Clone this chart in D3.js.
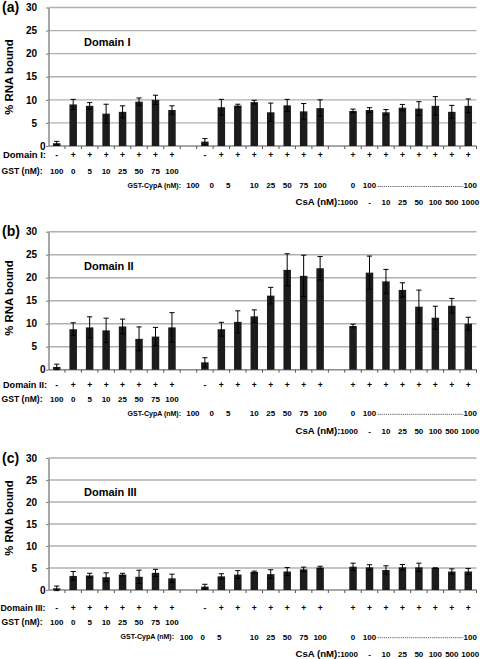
<!DOCTYPE html>
<html><head><meta charset="utf-8">
<script src="https://cdn.jsdelivr.net/npm/d3@7"></script>
<style>
body{margin:0;background:#fff}
text{font-family:"Liberation Sans",Arial,sans-serif;font-weight:bold;fill:#000}
</style>
</head><body>
<svg id="chart" width="480" height="659"></svg>
<script>
// ---------- data ----------
const categories = ["a1","a2","a3","a4","a5","a6","a7","a8","gap1",
                    "b1","b2","b3","b4","b5","b6","b7","b8","gap2",
                    "c1","c2","c3","c4","c5","c6","c7","c8"];
const barCategories = categories.filter(c => !c.startsWith("gap"));
const yTicks = [0,5,10,15,20,25,30];
const panelLetters = ["(a)","(b)","(c)"];
const domainNames = ["Domain I","Domain II","Domain III"];
const domainSigns = ["-","+","+","+","+","+","+","+",
                     "-","+","+","+","+","+","+","+",
                     "+","+","+","+","+","+","+","+"];
const gstLabels  = ["100","0","5","10","25","50","75","100"];
const cypaLabels = ["100","0","5","10","25","50","75","100"];
const cypaCsaLabels = ["0","100","","","","","","100"];
const csaLabels  = ["1000","-","10","25","50","100","500","1000"];

const domainIMeans  = [0.6,9.0,8.7,7.0,7.4,9.6,10.0,7.8,  0.95,8.4,8.75,9.5,7.3,8.8,7.5,8.2,  7.6,7.8,7.3,8.3,8.1,8.7,7.4,8.7];
const domainIErrors = [0.4,1.1,0.7,2.05,1.3,0.8,1.0,0.9,  0.65,1.7,0.3,0.4,2.0,1.3,1.7,1.8,  0.4,0.5,0.6,0.7,1.5,2.0,1.4,1.5];
const domainIIMeans  = [0.6,8.8,9.2,8.55,9.4,6.7,7.2,9.2,  1.6,8.8,10.4,11.6,16.1,21.7,20.4,22.05,  9.5,21.1,19.2,17.35,13.7,11.3,13.9,10.0];
const domainIIErrors = [0.6,1.4,2.3,2.65,1.6,2.6,2.0,3.2,  1.0,1.5,2.4,1.4,1.8,3.5,4.5,2.55,  0.4,3.6,2.6,1.55,3.6,2.5,1.6,1.4];
const domainIIIMeans  = [0.38,3.2,3.3,2.9,3.5,3.0,3.9,2.65,  0.76,3.1,3.5,4.1,3.6,4.2,4.7,5.1,  5.3,5.15,4.55,5.15,5.15,5.0,4.2,4.2];
const domainIIIErrors = [0.52,1.0,0.5,1.0,0.3,1.5,0.8,0.95,  0.54,0.6,0.9,0.2,1.0,0.9,0.5,0.3,  0.8,0.6,0.95,0.65,0.95,0.0,0.6,0.7];
const allMeans = [domainIMeans, domainIIMeans, domainIIIMeans];
const allErrors = [domainIErrors, domainIIErrors, domainIIIErrors];

// ---------- layout ----------
const layouts = [
  {top:7.5,  bottom:146,  rows:[155,171,185.5,202], titleY:77,  domLabelEnd:46, cypaEnd:181, cypaShift:[-12,-9.5,-9.5], domW:43},
  {top:231.7,bottom:369.7,rows:[385,399.3,413.3,431], titleY:298, domLabelEnd:47, cypaEnd:181, cypaShift:[-12,-9.5,-9.5], domW:44},
  {top:458,  bottom:590,  rows:[608.3,622.3,636.7,654], titleY:518, domLabelEnd:45.5, cypaEnd:174, cypaShift:[-18.5,-18.5,-18.5], domW:45}
];
const left = 48.5, right = 476.5;

const svg = d3.select("#chart");
const x = d3.scaleBand().domain(categories).range([left, right]).paddingInner(0.545).paddingOuter(0.2725);
const cx = c => x(c) + x.bandwidth()/2;
const step = x.step();

layouts.forEach((L, p) => {
  const g = svg.append("g");
  const y = d3.scaleLinear().domain([0,30]).range([L.bottom, L.top]);
  const means = allMeans[p], errs = allErrors[p];

  // gridlines
  g.selectAll(".grid").data(yTicks.filter(t => t > 0)).join("line")
    .attr("x1", left).attr("x2", right)
    .attr("y1", d => y(d)).attr("y2", d => y(d))
    .attr("stroke", "#b0b0b0").attr("stroke-width", 1.4);

  // y axis
  const ya = g.append("g").attr("transform", `translate(${left},0)`)
    .call(d3.axisLeft(y).tickValues(yTicks).tickSize(2.5).tickSizeOuter(0).tickPadding(9));
  ya.select(".domain").attr("stroke", "#8a8a8a").attr("stroke-width", 1.5);
  ya.selectAll(".tick line").attr("stroke", "#8a8a8a").attr("stroke-width", 1.2);
  ya.selectAll(".tick text").attr("font-size", 10).attr("font-family", "Liberation Sans, Arial, sans-serif")
    .attr("font-weight", "bold").attr("fill", "#000")
    .attr("dx", d => d === 0 ? 8.5 : 0);

  // x axis line and boundary ticks
  g.append("line").attr("x1", left).attr("x2", right).attr("y1", y(0)).attr("y2", y(0))
    .attr("stroke", "#8a8a8a").attr("stroke-width", 1.5);
  g.selectAll(".xt").data(categories).join("line")
    .attr("x1", d => x(d) + x.bandwidth()/2 + step/2).attr("x2", d => x(d) + x.bandwidth()/2 + step/2)
    .attr("y1", y(0)).attr("y2", y(0) + 3)
    .attr("stroke", "#555").attr("stroke-width", 1);

  // bars
  g.selectAll(".bar").data(barCategories).join("rect")
    .attr("x", d => x(d)).attr("width", x.bandwidth())
    .attr("y", (d,i) => y(means[i])).attr("height", (d,i) => y(0) - y(means[i]))
    .attr("fill", "#1c1c1c");

  // error bars
  const eb = g.selectAll(".eb").data(barCategories).join("g");
  eb.append("line").attr("x1", d => cx(d)).attr("x2", d => cx(d))
    .attr("y1", (d,i) => y(means[i] - errs[i])).attr("y2", (d,i) => y(means[i] + errs[i]))
    .attr("stroke", "#000").attr("stroke-width", 1);
  [1,-1].forEach(s => {
    eb.append("line").attr("x1", d => cx(d) - 2.6).attr("x2", d => cx(d) + 2.6)
      .attr("y1", (d,i) => y(means[i] + s*errs[i])).attr("y2", (d,i) => y(means[i] + s*errs[i]))
      .attr("stroke", "#000").attr("stroke-width", 1);
  });

  // panel letter, domain name, y title
  g.append("text").attr("x", 2).attr("y", L.top + 4.5).attr("font-size", 14).text(panelLetters[p]);
  g.append("text").attr("x", 84).attr("y", L.top + 34.3).attr("dy", "0.35em").attr("font-size", 11).text(domainNames[p]);
  g.append("text").attr("transform", `translate(9,${L.titleY}) rotate(-90)`)
    .attr("text-anchor", "middle").attr("dy", "0.35em").attr("font-size", 11.4).text("% RNA bound");

  // label rows
  const rowText = (xx, yy, t, anchor, size) => g.append("text").attr("x", xx).attr("y", yy)
    .attr("dy", "0.35em").attr("text-anchor", anchor || "middle").attr("font-size", size || 8).text(t);

  rowText(L.domLabelEnd, L.rows[0], domainNames[p] + ":", "end", 8.5)
    .attr("textLength", L.domW).attr("lengthAdjust", "spacingAndGlyphs");
  barCategories.forEach((c, i) => rowText(cx(c), L.rows[0], domainSigns[i], "middle", 8.5));

  rowText(42.5, L.rows[1], "GST (nM):", "end", 8.5)
    .attr("textLength", 41).attr("lengthAdjust", "spacingAndGlyphs");
  barCategories.slice(0,8).forEach((c, i) => rowText(cx(c), L.rows[1], gstLabels[i]));

  rowText(L.cypaEnd, L.rows[2], "GST-CypA (nM):", "end", 7);
  barCategories.slice(8,16).forEach((c, i) => rowText(cx(c) + (i < 3 ? L.cypaShift[i] : 0), L.rows[2], cypaLabels[i]));
  const g3 = barCategories.slice(16,24);
  g3.forEach((c, i) => { if (cypaCsaLabels[i]) rowText(cx(c) + (i === 7 ? 2 : 0), L.rows[2], cypaCsaLabels[i]); });
  g.append("line").attr("x1", cx(g3[1]) + 8).attr("x2", cx(g3[7]) - 4.5)
    .attr("y1", L.rows[2] + 1).attr("y2", L.rows[2] + 1)
    .attr("stroke", "#333").attr("stroke-width", 0.8).attr("stroke-dasharray", "1.2,0.9");

  rowText(340.5, L.rows[3], "CsA (nM):", "end", 8.5)
    .attr("textLength", 45).attr("lengthAdjust", "spacingAndGlyphs");
  g3.forEach((c, i) => rowText(cx(c) + (i === 0 ? -4 : (i === 7 ? 2 : 0)), L.rows[3], csaLabels[i]));
});
</script>
</body></html>
